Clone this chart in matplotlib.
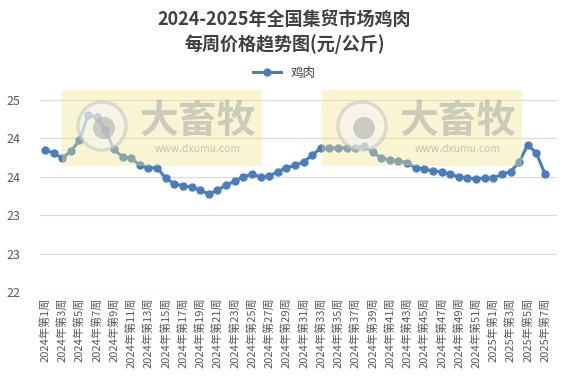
import matplotlib
matplotlib.use("Agg")
import matplotlib.pyplot as plt
from matplotlib.patches import Rectangle, Ellipse
from matplotlib.ticker import FuncFormatter

plt.rcParams['font.family'] = ['Noto Sans CJK SC', 'DejaVu Sans']

weeks = [f"2024年第{i}周" for i in range(1, 53)] + [f"2025年第{i}周" for i in range(1, 8)]
price = [24.22, 24.17, 24.09, 24.20, 24.37, 24.77, 24.73, 24.53, 24.23, 24.11,
         24.09, 23.98, 23.94, 23.94, 23.78, 23.69, 23.66, 23.64, 23.59, 23.53,
         23.59, 23.67, 23.73, 23.80, 23.84, 23.80, 23.81, 23.88, 23.94, 23.98,
         24.03, 24.14, 24.25, 24.25, 24.25, 24.25, 24.25, 24.28, 24.19, 24.09,
         24.06, 24.05, 24.02, 23.94, 23.92, 23.89, 23.88, 23.84, 23.80, 23.78,
         23.77, 23.78, 23.78, 23.84, 23.88, 24.03, 24.30, 24.17, 23.84]
yticks = [22, 22.6, 23.2, 23.8, 24.4, 25]

W, H = 569, 379
fig = plt.figure(figsize=(W / 100, H / 100), dpi=100)
ax = fig.add_axes([40 / W, 1 - 292 / H, 517 / W, 192 / H])

x = list(range(len(price)))
ax.plot(x, price, color='#4a7ebb', lw=2.2, marker='o', ms=5, label='鸡肉', zorder=3)

ax.set_xlim(-0.58, len(price) + 0.39)
ax.set_ylim(22, 25)
ax.set_yticks(yticks)
ax.yaxis.set_major_formatter(FuncFormatter(lambda v, p: f"{v:.0f}"))
ax.set_xticks(x[::2])
ax.set_xticklabels(weeks[::2], rotation=90, fontsize=8, color='#595959')
ax.tick_params(axis='y', labelsize=9, labelcolor='#595959', length=0, pad=14)
ax.tick_params(axis='x', length=0, pad=4)
ax.grid(axis='y', color='#d9d9d9', lw=0.8)
for s in ax.spines.values():
    s.set_visible(False)

fig.suptitle("2024-2025年全国集贸市场鸡肉\n每周价格趋势图(元/公斤)", y=0.975,
             fontsize=13, fontweight='bold', color='#404040', linespacing=1.35)
fig.legend(loc='center', bbox_to_anchor=(0.5, 1 - 73 / H), frameon=False,
           fontsize=9, handlelength=2.2, labelcolor='#404040')

# watermarks
def px(xp, yp):
    return (xp / W, 1 - yp / H)

for x0 in (62, 322):
    fig.add_artist(Rectangle(px(x0, 166), 200 / W, 76 / H,
                             transform=fig.transFigure, facecolor='#f0e68c',
                             alpha=0.38, edgecolor='none', zorder=10))
    fig.add_artist(Ellipse(px(x0 + 40, 126), 48 / W, 48 / H,
                           transform=fig.transFigure, facecolor='#f4f4f4',
                           edgecolor='#c4c4c4', lw=2.5, alpha=0.55, zorder=11))
    fig.add_artist(Ellipse(px(x0 + 42, 128), 22 / W, 22 / H,
                           transform=fig.transFigure, facecolor='#a8a8a8',
                           edgecolor='none', alpha=0.55, zorder=12))
    fig.text(*px(x0 + 136, 121), "大畜牧", fontsize=28, fontweight='bold',
             color='#a0a0a0', alpha=0.5, ha='center', va='center', zorder=12)
    fig.text(*px(x0 + 136, 149), "www.dxumu.com", fontsize=7.5,
             color='#a8a8a8', alpha=0.65, ha='center', va='center', zorder=12)

fig.savefig("out.png", dpi=100)
